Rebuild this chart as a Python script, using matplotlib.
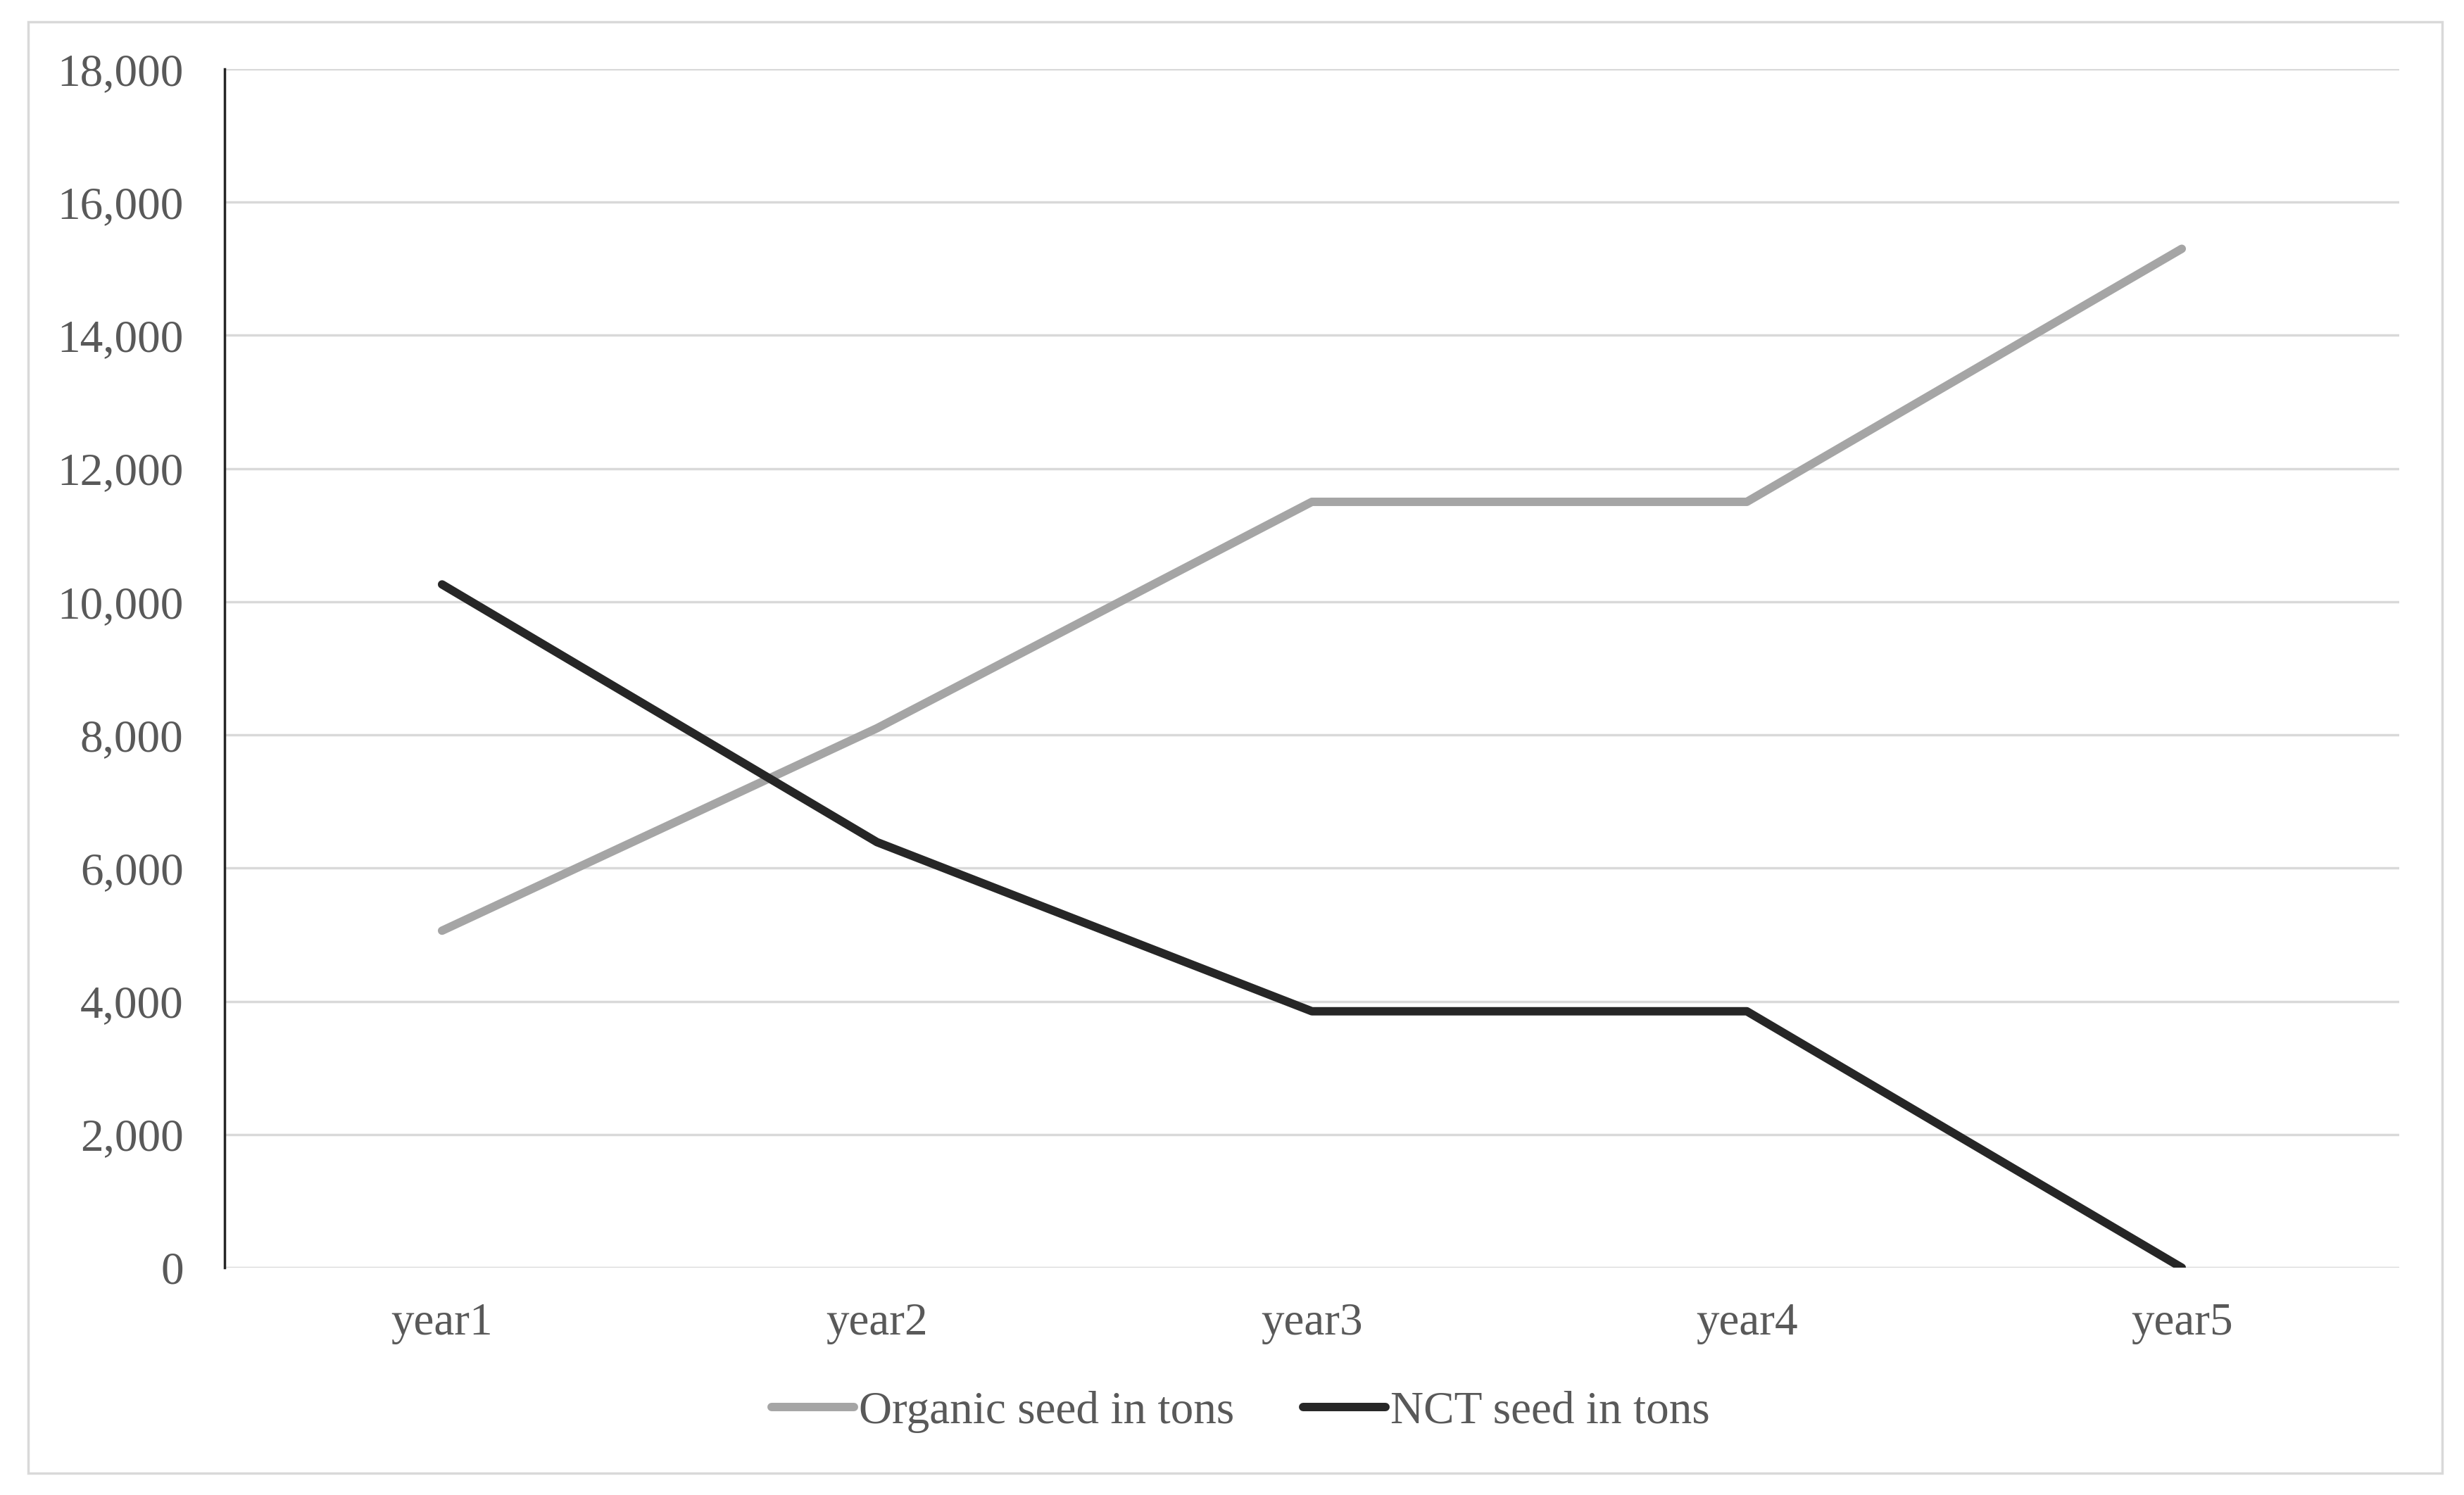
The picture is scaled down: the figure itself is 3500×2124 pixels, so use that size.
import matplotlib
matplotlib.use("Agg")
import matplotlib.pyplot as plt
from matplotlib.patches import Rectangle

# data
years = ["year1", "year2", "year3", "year4", "year5"]
organic = [5060, 8100, 11500, 11500, 15300]
nct = [10260, 6390, 3850, 3850, 0]
yticks = [0, 2000, 4000, 6000, 8000, 10000, 12000, 14000, 16000, 18000]

plt.rcParams['font.family'] = ['Liberation Serif', 'DejaVu Serif']
txt = '#595959'
fs = 47

fig = plt.figure(figsize=(35, 21.24), dpi=100)
ax = fig.add_axes([319/3500, 1 - 1801/2124, (3408-319)/3500, (1801-98)/2124])

x = list(range(len(years)))
ax.plot(x, organic, color='#a5a5a5', lw=8.6, solid_capstyle='round',
        solid_joinstyle='round', label='Organic seed in tons', zorder=3)
ax.plot(x, nct, color='#262626', lw=8.6, solid_capstyle='round',
        solid_joinstyle='round', label='NCT seed in tons', zorder=3)

ax.set_xlim(-0.5, len(years) - 0.5)
ax.set_ylim(0, 18000)
ax.set_yticks(yticks)
ax.set_yticklabels([f"{v:,}" for v in yticks])
ax.set_xticks(x)
ax.set_xticklabels(years)
ax.tick_params(axis='y', length=0, pad=42, labelsize=fs, labelcolor=txt)
ax.tick_params(axis='x', length=0, pad=36, labelsize=fs, labelcolor=txt)
ax.grid(axis='y', color='#d9d9d9', lw=2.5, zorder=0)
ax.set_axisbelow(True)
for s in ['top', 'right', 'bottom']:
    ax.spines[s].set_visible(False)
ax.spines['left'].set_color('#262626')
ax.spines['left'].set_linewidth(2.5)

# outer chart border
fig.patches.append(Rectangle((40/3500, 1 - 2093/2124), (3469-40)/3500, (2093-31)/2124,
                             transform=fig.transFigure, fill=False,
                             edgecolor='#d9d9d9', lw=2.5))

fig.legend(loc='center', bbox_to_anchor=(1762/3500, 1 - 2006/2124), ncol=2,
           frameon=False, fontsize=fs, labelcolor=txt, handlelength=1.8,
           handletextpad=0.1, columnspacing=1.5)

fig.savefig('out.png', dpi=100, facecolor='white')
